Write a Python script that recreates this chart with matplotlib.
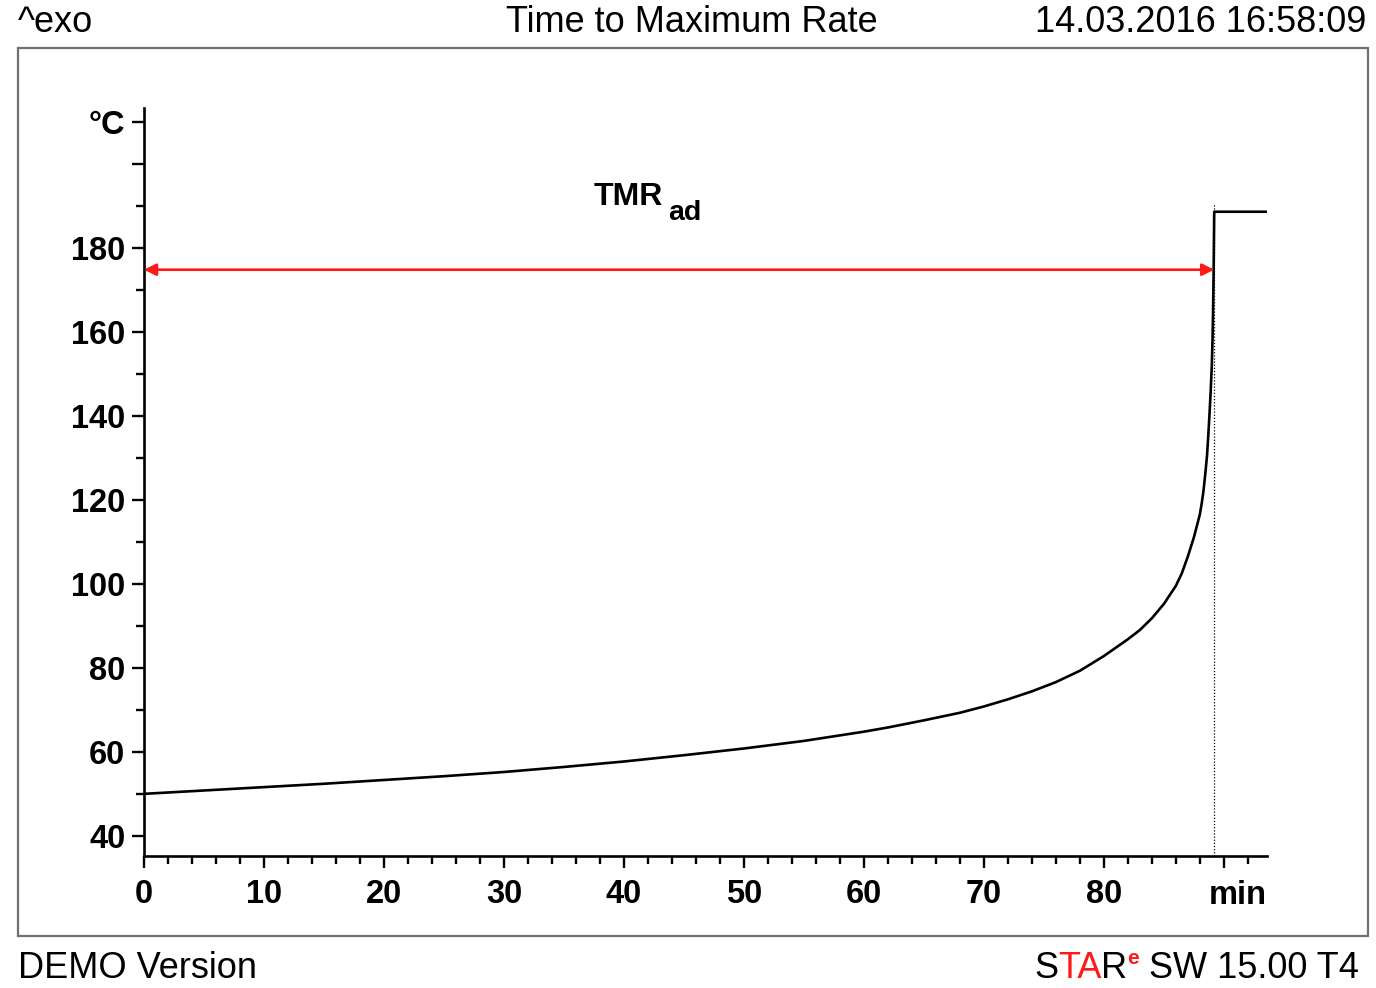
import matplotlib
matplotlib.use('Agg')
import matplotlib.pyplot as plt
from matplotlib.patches import Rectangle

plt.rcParams['font.family'] = ['Liberation Sans', 'DejaVu Sans']

# curve (min, degC)
time_min = [0, 5, 10, 15, 20, 25, 30, 35, 40, 45, 50, 55, 60, 62, 65, 68, 70,
            72, 74, 76, 78, 80, 82, 83, 84, 85, 86, 86.5, 87, 87.5, 88, 88.15,
            88.3, 88.45, 88.6, 88.7, 88.8, 88.9, 89.0, 89.05, 89.1, 89.15, 89.2,
            93.6]
temp_c = [50, 50.8, 51.6, 52.4, 53.3, 54.2, 55.2, 56.4, 57.7, 59.2, 60.8, 62.6,
          64.8, 65.8, 67.5, 69.3, 70.8, 72.5, 74.4, 76.6, 79.3, 82.8, 86.8, 89.0,
          91.8, 95.2, 99.5, 102.5, 106.5, 111, 116.5, 119, 122, 126, 130.5, 135,
          140, 145.5, 152, 157, 164, 174, 188.6, 188.6]

tmr_start = 0
tmr_end = 89.2
tmr_level = 174.8

x_labels = ['0', '10', '20', '30', '40', '50', '60', '70', '80']
y_labels = ['40', '60', '80', '100', '120', '140', '160', '180']

W, H = 1376, 988
fig = plt.figure(figsize=(W / 100, H / 100), dpi=100)

# frame around the plot area
fig.patches.append(Rectangle((18 / W, 1 - 936 / H), 1350 / W, 888 / H,
                             transform=fig.transFigure, fill=False,
                             edgecolor='#707070', lw=1.6))

ax = fig.add_axes([144 / W, 1 - 856 / H, (1267 - 144) / W, (856 - 108) / H])
ax.set_xlim(0, 93.6)
ax.set_ylim(35.2, 213.3)

ax.plot(time_min, temp_c, color='black', lw=1.9)
ax.plot([tmr_end, tmr_end], [35.2, 190.5], color='black', lw=0.9, ls=(0, (1, 1.5)))
ax.annotate('', xy=(tmr_end, tmr_level), xytext=(tmr_start, tmr_level),
            arrowprops=dict(arrowstyle='<|-|>', color='#ff1a1a', lw=1.9,
                            mutation_scale=18, shrinkA=0, shrinkB=0))
ax.text(37.5, 192, 'TMR', fontsize=23, fontweight='bold', ha='left', va='center')
ax.text(43.7, 188.3, 'ad', fontsize=20.5, fontweight='bold', ha='left', va='center')

for s in ['top', 'right']:
    ax.spines[s].set_visible(False)
for s in ['left', 'bottom']:
    ax.spines[s].set_linewidth(1.9)

ax.set_xticks(list(range(0, 81, 10)) + [90])
ax.set_xticklabels(x_labels + [''])
ax.set_xticks(range(0, 94, 2), minor=True)
ax.set_yticks(list(range(40, 181, 20)) + [200, 210])
ax.set_yticklabels(y_labels + ['', '°C'])
ax.set_yticks(range(40, 211, 10), minor=True)
ax.tick_params(which='major', length=8.5, width=1.7, labelsize=23.5)
ax.tick_params(axis='x', which='major', pad=8)
ax.tick_params(axis='y', which='major', pad=5)
ax.tick_params(which='minor', length=6, width=1.7)
for lab in ax.get_xticklabels() + ax.get_yticklabels():
    lab.set_fontweight('bold')
ax.text(93.6, -0.032, 'min', transform=ax.get_xaxis_transform(), ha='right',
        va='top', fontsize=23.5, fontweight='bold')

fig.text(18 / W, 1 - 22 / H, '^exo', fontsize=26, ha='left', va='center')
fig.text(692 / W, 1 - 22 / H, 'Time to Maximum Rate', fontsize=26, ha='center', va='center')
fig.text(1366 / W, 1 - 22 / H, '14.03.2016 16:58:09', fontsize=26, ha='right', va='center')
fig.text(18 / W, 1 - 968 / H, 'DEMO Version', fontsize=26, ha='left', va='center')

# STAR^e SW 15.00 T4 with red middle letters
parts = [('S', 'black', 26, 0), ('TA', '#ff1a1a', 26, 0), ('R', 'black', 26, 0),
         ('e', '#ff1a1a', 15, 10), (' SW 15.00 T4', 'black', 26, 0)]
fig.canvas.draw()
renderer = fig.canvas.get_renderer()
x = 1034
for txt, col, size, dy in parts:
    t = fig.text(x / W, (H - 968 + dy) / H, txt, fontsize=size, color=col,
                 ha='left', va='center', fontweight='bold' if size == 15 else 'normal')
    x += t.get_window_extent(renderer).width

fig.savefig('out.png', dpi=100)
